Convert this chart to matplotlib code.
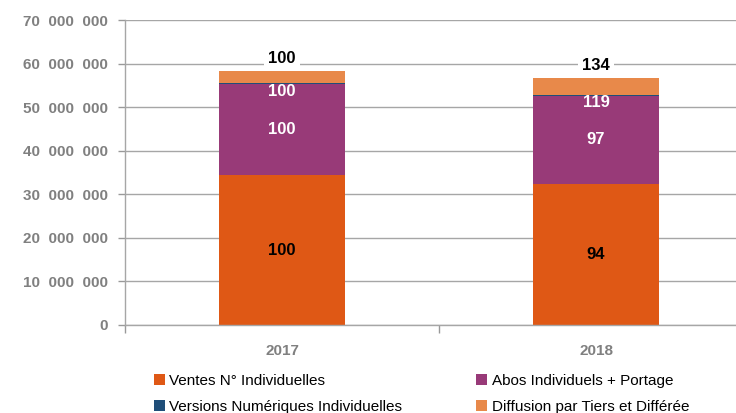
import numpy as np
import matplotlib
matplotlib.use("Agg")
import matplotlib.pyplot as plt
from matplotlib.ticker import FuncFormatter

plt.rcParams['font.family'] = ['Liberation Sans', 'DejaVu Sans']

years = ['2017', '2018']
series = ['Ventes N° Individuelles', 'Abos Individuels + Portage',
          'Versions Numériques Individuelles', 'Diffusion par Tiers et Différée']
ventes = [34.4e6, 32.4e6]
abos = [20.8e6, 20.2e6]
versions = [0.25e6, 0.30e6]
diffusion = [2.8e6, 3.75e6]
idx_ventes = ['100', '94']
idx_abos = ['100', '97']
idx_versions = ['100', '119']
idx_diffusion = ['100', '134']
colours = ['#DF5815', '#983A78', '#1F4E79', '#E8894A']

fig = plt.figure(figsize=(7.36, 4.13), dpi=100)
ax = fig.add_axes([125/736, 88/413, 1 - 125/736, 305/413])

x = np.arange(len(years))
w = 0.40
bottom = np.zeros(len(years))
handles = []
for vals, col, name in zip([ventes, abos, versions, diffusion], colours, series):
    b = ax.bar(x, vals, w, bottom=bottom, color=col, label=name, zorder=3)
    handles.append(b)
    bottom = bottom + np.array(vals)

for i in range(len(years)):
    ax.text(x[i], ventes[i] / 2, idx_ventes[i], ha='center', va='center',
            fontsize=12, fontweight='bold', color='black', zorder=5)
    ax.text(x[i], ventes[i] + abos[i] / 2, idx_abos[i], ha='center', va='center',
            fontsize=12, fontweight='bold', color='white', zorder=5)
    top_v = ventes[i] + abos[i] + versions[i]
    ax.annotate(idx_versions[i], (x[i], top_v), xytext=(0, -6), textcoords='offset points',
                ha='center', va='center', fontsize=12, fontweight='bold', color='white', zorder=5)
    ax.annotate(idx_diffusion[i], (x[i], bottom[i]), xytext=(0, 9), textcoords='offset points',
                ha='center', va='center', fontsize=12, fontweight='bold', color='black', zorder=5,
                bbox=dict(boxstyle='square,pad=0.25', fc='white', ec='none'))

ax.set_yticks(np.arange(0, 70e6 + 1, 10e6))
ax.set_ylim(0, 70e6)
ax.yaxis.set_major_formatter(FuncFormatter(lambda v, p: f"{int(v):,}".replace(',', '  ')))
ax.set_xticks(x)
ax.set_xticklabels(years)
ax.set_xticks([-0.5, 0.5, 1.5], minor=True)
# plot area is wider than the picture: the right part is cut off
ax.set_xlim(-0.5, -0.5 + (736 - 125) / 314)
ax.tick_params(axis='x', which='major', length=0, pad=14)
ax.tick_params(axis='x', which='minor', length=6, color='#999999', width=1)
ax.tick_params(axis='y', length=5, color='#999999', width=1, pad=7)
for lab in ax.get_xticklabels() + ax.get_yticklabels():
    lab.set_color('#808080')
    lab.set_fontweight('bold')
    lab.set_fontsize(11)

ax.grid(axis='y', color='#A6A6A6', linewidth=1, zorder=0)
for s in ['top', 'right']:
    ax.spines[s].set_visible(False)
for s in ['left', 'bottom']:
    ax.spines[s].set_color('#A6A6A6')
    ax.spines[s].set_linewidth(1)
    ax.spines[s].set_zorder(4)

order = [handles[0], handles[2], handles[1], handles[3]]
labels = [series[0], series[2], series[1], series[3]]
fig.legend(order, labels, ncol=2, loc='upper left', bbox_to_anchor=(148/736, 1 - 368/413),
           frameon=False, fontsize=11, handlelength=0.7, handleheight=0.7,
           handletextpad=0.3, columnspacing=4.85, labelspacing=0.75, borderaxespad=0)

fig.savefig('out.png', dpi=100)
